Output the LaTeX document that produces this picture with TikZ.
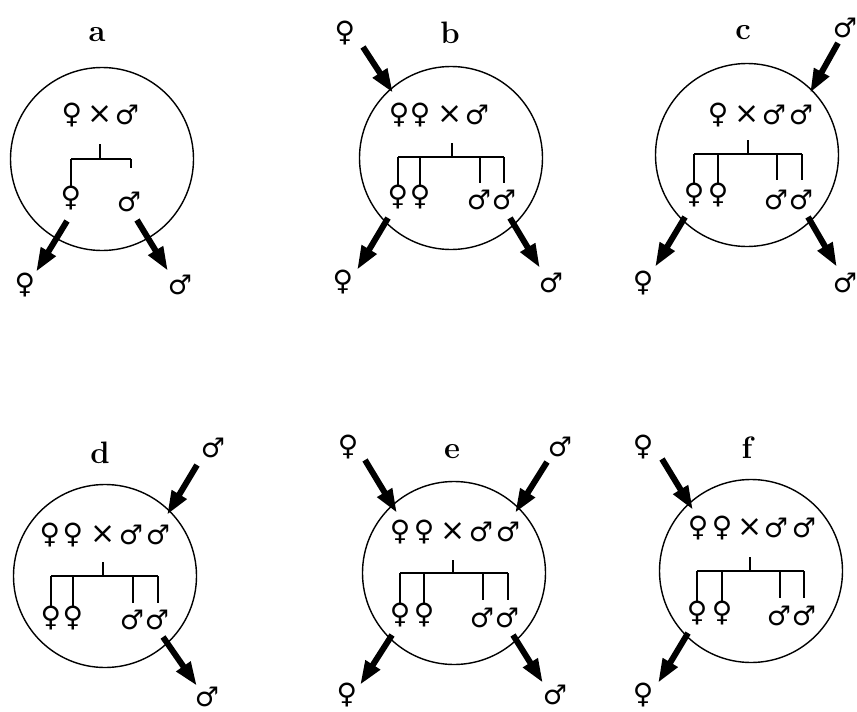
\documentclass[tikz,border=0pt]{standalone}
\usepackage{fontspec}
\newfontfamily\symf{DejaVu Sans}
\usetikzlibrary{arrows.meta}
\tikzset{
  circ/.style={draw, circle, line width=1.4pt, minimum size=#1, inner sep=0pt},
  circ/.default=183pt,
  sym/.style={font=\symf\fontsize{28}{30}\selectfont, inner sep=0pt},
  msym/.style={font=\symf\fontsize{27}{28}\selectfont, inner sep=0pt},
  crs/.style={font=\symf\fontsize{30}{30}\selectfont, inner sep=0pt},
  lbl/.style={font=\fontsize{31}{32}\selectfont\bfseries, inner sep=0pt},
  tree/.style={line width=1.3pt},
  bigarrow/.style={line width=6pt, -{Triangle[length=24pt,width=16pt]}},
}
\begin{document}
\begin{tikzpicture}[x=1pt,y=-1pt]
\useasboundingbox (0,0) rectangle (857,712);
% ---------- panel a ----------
\node[circ] (ca) at (102,159) {};
\node[lbl] (la) at (97,35) {a};
\node[sym] (aP1) at (72,115) {♀};
\node[crs] (aX) at (100,115) {×};
\node[msym] (aM1) at (127,115) {♂};
\node[sym] (aF1) at (71,198) {♀};
\node[msym] (aC1) at (129,202) {♂};
\coordinate (aS) at (100,144); \coordinate (aB) at (100,159);
\coordinate (aL1) at (71,159); \coordinate (aL2) at (131,159);
\coordinate (aE2) at (131,168);
\draw[tree] (aS) -- (aB) (aL1) -- (aL2) (aL1) -- (aF1.north) (aL2) -- (aE2);
\coordinate (aO1s) at (67,221); \coordinate (aO1e) at (36,272);
\coordinate (aO2s) at (137,220); \coordinate (aO2e) at (168,271);
\draw[bigarrow] (aO1s) -- (aO1e);
\draw[bigarrow] (aO2s) -- (aO2e);
\node[sym] (aOF) at (25,285) {♀};
\node[msym] (aOM) at (180,285) {♂};
% ---------- panel b ----------
\node[circ] (cb) at (451,158) {};
\node[lbl] (lb) at (450,33) {b};
\node[sym] (bIF) at (345,33) {♀};
\coordinate (bIs) at (363,47); \coordinate (bIe) at (393,93);
\draw[bigarrow] (bIs) -- (bIe);
\node[sym] (bP1) at (399,115) {♀};
\node[sym] (bP2) at (420,115) {♀};
\node[crs] (bX) at (450,115) {×};
\node[msym] (bM1) at (477,115) {♂};
\node[sym] (bF1) at (398,197) {♀};
\node[sym] (bF2) at (420,197) {♀};
\node[msym] (bC1) at (479,200) {♂};
\node[msym] (bC2) at (504,200) {♂};
\coordinate (bS) at (452,143); \coordinate (bB) at (452,157);
\coordinate (bL1) at (398,157); \coordinate (bL2) at (420,157);
\coordinate (bL3) at (480,157); \coordinate (bL4) at (504,157);
\coordinate (bE3) at (480,183); \coordinate (bE4) at (504,183);
\draw[tree] (bS) -- (bB) (bL1) -- (bL4) (bL1) -- (bF1.north) (bL2) -- (bF2.north)
  (bL3) -- (bE3) (bL4) -- (bE4);
\coordinate (bO1s) at (388,218); \coordinate (bO1e) at (357,270);
\coordinate (bO2s) at (510,218); \coordinate (bO2e) at (540,268);
\draw[bigarrow] (bO1s) -- (bO1e);
\draw[bigarrow] (bO2s) -- (bO2e);
\node[sym] (bOF) at (343,282) {♀};
\node[msym] (bOM) at (551,283) {♂};
% ---------- panel c ----------
\node[circ] (cc) at (747,155) {};
\node[lbl] (lc) at (743,33) {c};
\node[msym] (cIM) at (845,28) {♂};
\coordinate (cIs) at (838,43); \coordinate (cIe) at (810,93);
\draw[bigarrow] (cIs) -- (cIe);
\node[sym] (cP1) at (718,115) {♀};
\node[crs] (cX) at (747,115) {×};
\node[msym] (cM1) at (774,115) {♂};
\node[msym] (cM2) at (801,115) {♂};
\node[sym] (cF1) at (694,195) {♀};
\node[sym] (cF2) at (718,195) {♀};
\node[msym] (cC1) at (776,200) {♂};
\node[msym] (cC2) at (801,200) {♂};
\coordinate (cS) at (748,140); \coordinate (cB) at (748,154);
\coordinate (cL1) at (694,154); \coordinate (cL2) at (718,154);
\coordinate (cL3) at (777,154); \coordinate (cL4) at (802,154);
\coordinate (cE3) at (777,180); \coordinate (cE4) at (802,180);
\draw[tree] (cS) -- (cB) (cL1) -- (cL4) (cL1) -- (cF1.north) (cL2) -- (cF2.north)
  (cL3) -- (cE3) (cL4) -- (cE4);
\coordinate (cO1s) at (685,217); \coordinate (cO1e) at (655,267);
\coordinate (cO2s) at (808,217); \coordinate (cO2e) at (837,267);
\draw[bigarrow] (cO1s) -- (cO1e);
\draw[bigarrow] (cO2s) -- (cO2e);
\node[sym] (cOF) at (643,283) {♀};
\node[msym] (cOM) at (845,283) {♂};
% ---------- panel d ----------
\node[circ] (cd) at (105,576) {};
\node[lbl] (ld) at (100,453) {d};
\node[msym] (dIM) at (213,448) {♂};
\coordinate (dIs) at (197,465); \coordinate (dIe) at (167,515);
\draw[bigarrow] (dIs) -- (dIe);
\node[sym] (dP1) at (50,535) {♀};
\node[sym] (dP2) at (73,535) {♀};
\node[crs] (dX) at (103,535) {×};
\node[msym] (dM1) at (131,535) {♂};
\node[msym] (dM2) at (158,535) {♂};
\node[sym] (dF1) at (51,618) {♀};
\node[sym] (dF2) at (73,618) {♀};
\node[msym] (dC1) at (132,620) {♂};
\node[msym] (dC2) at (157,620) {♂};
\coordinate (dS) at (103,562); \coordinate (dB) at (103,576);
\coordinate (dL1) at (51,576); \coordinate (dL2) at (73,576);
\coordinate (dL3) at (133,576); \coordinate (dL4) at (158,576);
\coordinate (dE3) at (133,603); \coordinate (dE4) at (158,603);
\draw[tree] (dS) -- (dB) (dL1) -- (dL4) (dL1) -- (dF1.north) (dL2) -- (dF2.north)
  (dL3) -- (dE3) (dL4) -- (dE4);
\coordinate (dO2s) at (163,637); \coordinate (dO2e) at (197,686);
\draw[bigarrow] (dO2s) -- (dO2e);
\node[msym] (dOM) at (207,697) {♂};
% ---------- panel e ----------
\node[circ] (ce) at (454,573) {};
\node[lbl] (le) at (452,452) {e};
\node[sym] (eIF) at (348,447) {♀};
\node[msym] (eIM) at (560,447) {♂};
\coordinate (eI1s) at (365,460); \coordinate (eI1e) at (397,513);
\coordinate (eI2s) at (547,462); \coordinate (eI2e) at (515,513);
\draw[bigarrow] (eI1s) -- (eI1e);
\draw[bigarrow] (eI2s) -- (eI2e);
\node[sym] (eP1) at (400,532) {♀};
\node[sym] (eP2) at (424,532) {♀};
\node[crs] (eX) at (453,532) {×};
\node[msym] (eM1) at (481,532) {♂};
\node[msym] (eM2) at (508,532) {♂};
\node[sym] (eF1) at (400,615) {♀};
\node[sym] (eF2) at (424,615) {♀};
\node[msym] (eC1) at (482,618) {♂};
\node[msym] (eC2) at (507,618) {♂};
\coordinate (eS) at (453,560); \coordinate (eB) at (453,573);
\coordinate (eL1) at (400,573); \coordinate (eL2) at (424,573);
\coordinate (eL3) at (483,573); \coordinate (eL4) at (508,573);
\coordinate (eE3) at (483,600); \coordinate (eE4) at (508,600);
\draw[tree] (eS) -- (eB) (eL1) -- (eL4) (eL1) -- (eF1.north) (eL2) -- (eF2.north)
  (eL3) -- (eE3) (eL4) -- (eE4);
\coordinate (eO1s) at (392,635); \coordinate (eO1e) at (360,685);
\coordinate (eO2s) at (513,635); \coordinate (eO2e) at (543,683);
\draw[bigarrow] (eO1s) -- (eO1e);
\draw[bigarrow] (eO2s) -- (eO2e);
\node[sym] (eOF) at (347,695) {♀};
\node[msym] (eOM) at (555,695) {♂};
% ---------- panel f ----------
\node[circ] (cf) at (751,571) {};
\node[lbl] (lf) at (747,448) {f};
\node[sym] (fIF) at (643,447) {♀};
\coordinate (fIs) at (662,459); \coordinate (fIe) at (693,510);
\draw[bigarrow] (fIs) -- (fIe);
\node[sym] (fP1) at (698,528) {♀};
\node[sym] (fP2) at (722,528) {♀};
\node[crs] (fX) at (750,528) {×};
\node[msym] (fM1) at (776,528) {♂};
\node[msym] (fM2) at (804,528) {♂};
\node[sym] (fF1) at (697,613) {♀};
\node[sym] (fF2) at (722,613) {♀};
\node[msym] (fC1) at (779,616) {♂};
\node[msym] (fC2) at (804,616) {♂};
\coordinate (fS) at (750,557); \coordinate (fB) at (750,571);
\coordinate (fL1) at (697,571); \coordinate (fL2) at (722,571);
\coordinate (fL3) at (780,571); \coordinate (fL4) at (804,571);
\coordinate (fE3) at (780,598); \coordinate (fE4) at (804,598);
\draw[tree] (fS) -- (fB) (fL1) -- (fL4) (fL1) -- (fF1.north) (fL2) -- (fF2.north)
  (fL3) -- (fE3) (fL4) -- (fE4);
\coordinate (fO1s) at (688,633); \coordinate (fO1e) at (658,683);
\draw[bigarrow] (fO1s) -- (fO1e);
\node[sym] (fOF) at (643,695) {♀};
\end{tikzpicture}
\end{document}
